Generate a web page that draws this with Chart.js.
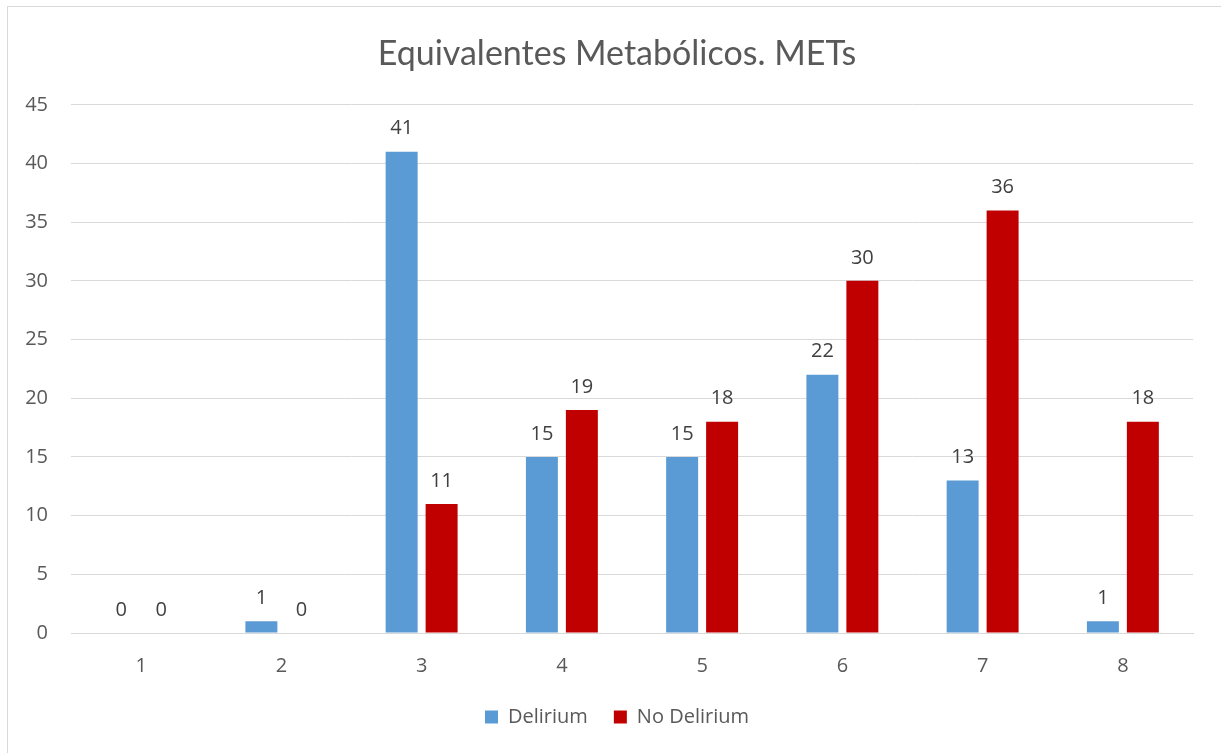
<!DOCTYPE html>
<html>
<head>
<meta charset="utf-8">
<title>Equivalentes Metabólicos. METs</title>
<script src="https://cdn.jsdelivr.net/npm/chart.js@4"></script>
<style>
  html, body { margin: 0; padding: 0; background: #ffffff; }
  #wrap { width: 1221px; height: 753px; }
</style>
</head>
<body>
<div id="wrap"><canvas id="chart" width="1221" height="753"></canvas></div>
<script>
// Categories (MET levels) and counts per group
const categories = ['1', '2', '3', '4', '5', '6', '7', '8'];
const deliriumValues = [0, 1, 41, 15, 15, 22, 13, 1];
const noDeliriumValues = [0, 0, 11, 19, 18, 30, 36, 18];
const seriesNames = ['Delirium', 'No Delirium'];
const titleText = 'Equivalentes Metabólicos. METs';

const TITLE_FONT = 'Lato, "Open Sans", sans-serif';
const FONT = '"Open Sans", "Noto Sans", "DejaVu Sans", sans-serif';

// Outer frame of the chart
const framePlugin = {
  id: 'frame',
  beforeDraw(chart) {
    const ctx = chart.ctx;
    ctx.save();
    ctx.fillStyle = '#ffffff';
    ctx.fillRect(0, 0, chart.width, chart.height);
    ctx.strokeStyle = '#d9d9d9';
    ctx.lineWidth = 1;
    ctx.strokeRect(7.5, 6.5, chart.width + 20, chart.height + 20);
    ctx.restore();
  }
};

// Value labels above each bar
const valueLabels = {
  id: 'valueLabels',
  afterDatasetsDraw(chart) {
    const ctx = chart.ctx;
    ctx.save();
    ctx.font = '20px ' + FONT;
    ctx.fillStyle = '#404040';
    ctx.textAlign = 'center';
    ctx.textBaseline = 'middle';
    chart.data.datasets.forEach((ds, i) => {
      const meta = chart.getDatasetMeta(i);
      meta.data.forEach((el, j) => {
        ctx.fillText(String(ds.data[j]), el.x, el.y - 23);
      });
    });
    ctx.restore();
  }
};

new Chart(document.getElementById('chart'), {
  type: 'bar',
  data: {
    labels: categories,
    datasets: [
      {
        label: seriesNames[0],
        data: deliriumValues,
        backgroundColor: '#5B9BD5',
        categoryPercentage: 0.57,
        barPercentage: 0.8
      },
      {
        label: seriesNames[1],
        data: noDeliriumValues,
        backgroundColor: '#C00000',
        categoryPercentage: 0.57,
        barPercentage: 0.8
      }
    ]
  },
  options: {
    responsive: false,
    animation: false,
    layout: { padding: { left: 13, right: 0, top: 0, bottom: 16 } },
    plugins: {
      title: {
        display: true,
        text: titleText,
        color: '#595959',
        font: { family: TITLE_FONT, size: 34, weight: 'normal' },
        padding: { top: 34, bottom: 30 }
      },
      legend: {
        position: 'bottom',
        labels: {
          color: '#595959',
          font: { family: FONT, size: 20 },
          boxWidth: 13,
          boxHeight: 13,
          padding: 26
        }
      },
      tooltip: { enabled: false }
    },
    scales: {
      x: {
        grid: { display: false, drawTicks: false },
        border: { display: true, color: '#d9d9d9' },
        ticks: {
          color: '#595959',
          font: { family: FONT, size: 20 },
          padding: 21
        },
        afterFit(scale) { scale.height = 48; }
      },
      y: {
        min: 0,
        max: 45,
        grid: { color: '#d9d9d9', lineWidth: 1, drawTicks: false },
        border: { display: false },
        ticks: {
          stepSize: 5,
          color: '#595959',
          font: { family: FONT, size: 20 },
          padding: 23
        },
        afterFit(scale) { scale.width = 58; }
      },
      // empty right-hand margin of the plot area
      gutter: {
        type: 'linear',
        position: 'right',
        grid: { display: false, drawTicks: false },
        border: { display: false },
        ticks: { display: false },
        afterFit(scale) { scale.width = 28; }
      }
    }
  },
  plugins: [framePlugin, valueLabels]
});
</script>
</body>
</html>
